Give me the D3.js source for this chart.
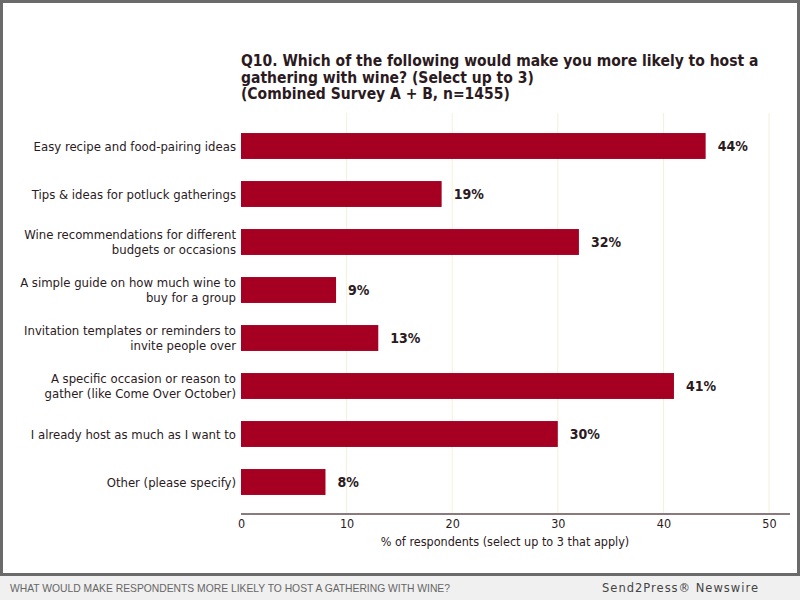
<!DOCTYPE html>
<html>
<head>
<meta charset="utf-8">
<script src="https://cdn.jsdelivr.net/npm/d3@7"></script>
<style>
  body { margin: 0; background: #f2f2f2; }
  text { font-family: 'DejaVu Sans Condensed', 'DejaVu Sans', sans-serif; }
</style>
</head>
<body>
<div id="chart"></div>
<script>
// data
var categories = [
  ['Easy recipe and food-pairing ideas'],
  ['Tips & ideas for potluck gatherings'],
  ['Wine recommendations for different', 'budgets or occasions'],
  ['A simple guide on how much wine to', 'buy for a group'],
  ['Invitation templates or reminders to', 'invite people over'],
  ['A specific occasion or reason to', 'gather (like Come Over October)'],
  ['I already host as much as I want to'],
  ['Other (please specify)']
]
var values = [44, 19, 32, 9, 13, 41, 30, 8]
var xTicks = [0, 10, 20, 30, 40, 50]

var svgWidth = 800
var svgHeight = 600
var textColor = '#2b1a1e'

var svg = d3.select('#chart')
  .append('svg')
  .attr('width', svgWidth)
  .attr('height', svgHeight)

// frame and footer strip
svg.append('rect').attr('x', 0).attr('y', 0).attr('width', 800).attr('height', 600).attr('fill', '#f0f0f0')
svg.append('rect').attr('x', 1.5).attr('y', 1.5).attr('width', 797).attr('height', 573)
  .attr('fill', '#fff').attr('stroke', '#6a6a6a').attr('stroke-width', 3)

svg.append('text').attr('x', 10).attr('y', 592)
  .style('font-family', 'Liberation Sans Narrow, Arial Narrow, sans-serif')
  .style('font-size', '11.5px').attr('fill', '#666')
  .attr('textLength', 440).attr('lengthAdjust', 'spacingAndGlyphs')
  .text('WHAT WOULD MAKE RESPONDENTS MORE LIKELY TO HOST A GATHERING WITH WINE?')
svg.append('text').attr('x', 759).attr('y', 592).attr('text-anchor', 'end')
  .style('font-family', 'DejaVu Sans').style('font-size', '11.5px').style('letter-spacing', '1px')
  .attr('fill', '#444').text('Send2Press® Newswire')

var x = d3.scaleLinear().domain([0, 50]).range([241, 769])
var y = d3.scaleBand().domain(d3.range(values.length)).range([122, 506]).paddingInner(0.46).paddingOuter(0.23)

// title
var title = ['Q10. Which of the following would make you more likely to host a',
  'gathering with wine? (Select up to 3)', '(Combined Survey A + B, n=1455)']
svg.append('g').selectAll('text').data(title).enter().append('text')
  .attr('x', 241).attr('y', (d, i) => 66 + i * 16.5)
  .style('font-size', '15.5px').style('font-weight', 'bold').attr('fill', textColor)
  .text(d => d)

// gridlines
svg.append('g').selectAll('line').data(xTicks.slice(1)).enter().append('line')
  .attr('x1', d => x(d)).attr('x2', d => x(d)).attr('y1', 113).attr('y2', 513)
  .attr('stroke', '#f3f1d8').attr('stroke-width', 1)

// bars
svg.append('g').selectAll('rect').data(values).enter().append('rect')
  .attr('x', x(0)).attr('y', (d, i) => y(i))
  .attr('width', d => x(d) - x(0)).attr('height', y.bandwidth())
  .attr('fill', '#a50021')

svg.append('g').selectAll('text').data(values).enter().append('text')
  .attr('x', d => x(d) + 12).attr('y', (d, i) => y(i) + y.bandwidth() / 2)
  .attr('dy', '0.35em').style('font-size', '14px').style('font-weight', 'bold')
  .attr('fill', textColor).text(d => d + '%')

// category labels
var labels = svg.append('g').selectAll('text').data(categories).enter().append('text')
  .attr('x', 236).attr('text-anchor', 'end')
  .style('font-size', '13px').attr('fill', textColor)
labels.each(function (d, i) {
  var cy = y(i) + y.bandwidth() / 2
  var start = cy - (d.length - 1) * 7.5
  d3.select(this).selectAll('tspan').data(d).enter().append('tspan')
    .attr('x', 236).attr('y', (t, j) => start + j * 15).attr('dy', '0.35em').text(t => t)
})

// x axis
var axis = svg.append('g').attr('transform', 'translate(0,514)')
  .call(d3.axisBottom(x).tickValues(xTicks).tickSize(0).tickPadding(5))
axis.select('.domain').remove()
axis.append('line').attr('x1', 241).attr('x2', 790).attr('stroke', '#8a7a7c').attr('stroke-width', 2)
axis.selectAll('.tick text').style('font-size', '12.5px').attr('fill', textColor)
  .style('font-family', "'DejaVu Sans Condensed', sans-serif")

svg.append('text').attr('x', 505).attr('y', 546).attr('text-anchor', 'middle')
  .style('font-size', '12.5px').attr('fill', textColor)
  .text('% of respondents (select up to 3 that apply)')
</script>
</body>
</html>
